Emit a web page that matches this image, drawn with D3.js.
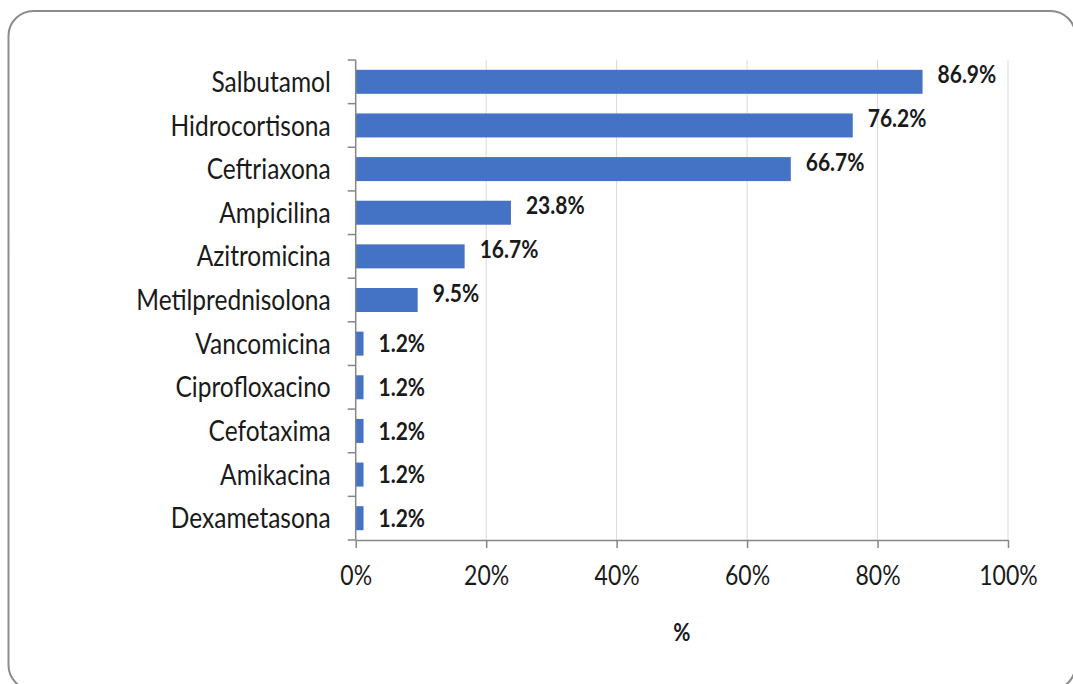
<!DOCTYPE html>
<html>
<head>
<meta charset="utf-8">
<script src="https://cdn.jsdelivr.net/npm/d3@7"></script>
<style>
  html, body { margin: 0; padding: 0; background: #fff; }
  svg { display: block; }
  text { font-family: Lato, "Open Sans", sans-serif; fill: #1a1a1a; }
</style>
</head>
<body>
<svg id="chart" width="1073" height="684"></svg>
<script>
// Medication use, share of patients (%)
const categories = [
  "Salbutamol", "Hidrocortisona", "Ceftriaxona", "Ampicilina", "Azitromicina",
  "Metilprednisolona", "Vancomicina", "Ciprofloxacino", "Cefotaxima", "Amikacina", "Dexametasona"
];
const percentages = [86.9, 76.2, 66.7, 23.8, 16.7, 9.5, 1.2, 1.2, 1.2, 1.2, 1.2];
const xTickValues = [0, 20, 40, 60, 80, 100];
const xAxisTitle = "%";

const svg = d3.select("#chart");
const stretch = 1.14; // slightly tall lettering

// rounded outer frame
svg.append("rect")
  .attr("x", 8.5).attr("y", 11)
  .attr("width", 1067).attr("height", 679)
  .attr("rx", 25).attr("ry", 25)
  .attr("fill", "#fff")
  .attr("stroke", "#8c8c8c")
  .attr("stroke-width", 2);

const plot = { left: 355.7, right: 1008, top: 60, bottom: 540 };

const x = d3.scaleLinear().domain([0, 100]).range([plot.left, plot.right]);
const y = d3.scaleBand().domain(categories).range([plot.top, plot.bottom]).paddingInner(0.45).paddingOuter(0.225);
const yTicks = d3.scaleBand().domain(categories).range([plot.top, plot.bottom]);

// vertical gridlines
svg.append("g").selectAll("line")
  .data(xTickValues.filter(v => v > 0))
  .join("line")
  .attr("x1", d => x(d)).attr("x2", d => x(d))
  .attr("y1", plot.top).attr("y2", plot.bottom)
  .attr("stroke", "#d9d9d9").attr("stroke-width", 1);

// bars
svg.append("g").selectAll("rect")
  .data(categories)
  .join("rect")
  .attr("x", x(0))
  .attr("y", d => y(d))
  .attr("width", (d, i) => x(percentages[i]) - x(0))
  .attr("height", y.bandwidth())
  .attr("fill", "#4472c4");

// x axis
const xAxis = d3.axisBottom(x)
  .tickValues(xTickValues)
  .tickFormat(d => d + "%")
  .tickSizeInner(8).tickSizeOuter(0).tickPadding(0);
const gx = svg.append("g").attr("transform", `translate(0,${plot.bottom})`).call(xAxis);
gx.select(".domain").attr("stroke", "#868686").attr("stroke-width", 1.5);
gx.selectAll(".tick line").attr("stroke", "#868686").attr("stroke-width", 1.5);
gx.selectAll(".tick text")
  .attr("y", 0).attr("dy", 0)
  .attr("font-size", 23).attr("fill", "#1a1a1a")
  .attr("transform", `translate(0,45) scale(1,${stretch})`)
  .style("font-family", "Lato, sans-serif");

// y axis: category labels and tick marks between categories
const yAxis = d3.axisLeft(y).tickSize(0).tickPadding(25);
const gy = svg.append("g").attr("transform", `translate(${plot.left},0)`).call(yAxis);
gy.select(".domain").remove();
gy.selectAll(".tick text")
  .attr("font-size", 24.5).attr("fill", "#1a1a1a")
  .attr("transform", `scale(1,${stretch})`)
  .attr("dy", "0.36em")
  .style("font-family", "Lato, sans-serif");

const sepPositions = categories.map(c => yTicks(c)).concat([plot.bottom]);
svg.append("g").selectAll("line")
  .data(sepPositions)
  .join("line")
  .attr("x1", plot.left - 8).attr("x2", plot.left)
  .attr("y1", d => d).attr("y2", d => d)
  .attr("stroke", "#868686").attr("stroke-width", 1.5);
svg.append("line")
  .attr("x1", plot.left).attr("x2", plot.left)
  .attr("y1", plot.top).attr("y2", plot.bottom)
  .attr("stroke", "#868686").attr("stroke-width", 1.5);

// value labels (the longer bars carry their labels slightly raised)
const labelRaise = p => (p > 5 ? 7 : 0);
svg.append("g").selectAll("text")
  .data(categories)
  .join("text")
  .attr("transform", (d, i) =>
    `translate(${x(percentages[i]) + 15},${y(d) + y.bandwidth() / 2 - labelRaise(percentages[i])}) scale(1,${stretch})`)
  .attr("dy", "0.36em")
  .attr("font-size", 21)
  .attr("font-weight", "bold")
  .text((d, i) => percentages[i].toFixed(1) + "%");

// axis title
svg.append("text")
  .attr("transform", `translate(${(plot.left + plot.right) / 2},632) scale(1,${stretch})`)
  .attr("dy", "0.36em")
  .attr("text-anchor", "middle")
  .attr("font-size", 21)
  .attr("font-weight", "bold")
  .text(xAxisTitle);
</script>
</body>
</html>
